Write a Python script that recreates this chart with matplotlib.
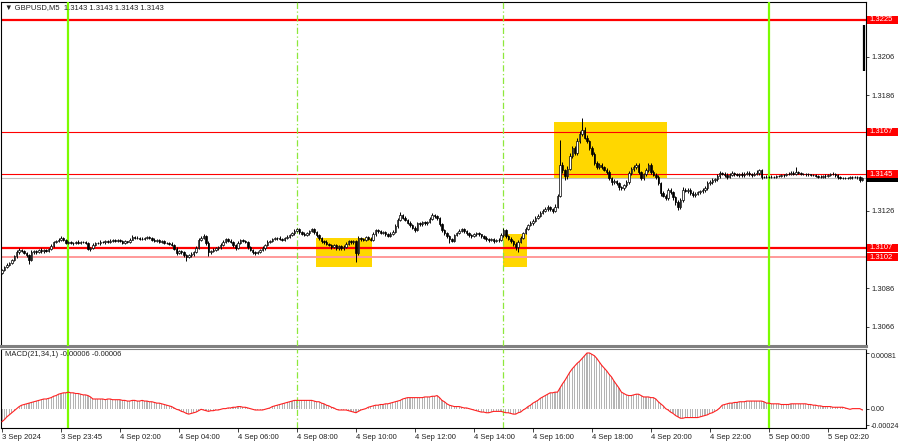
import matplotlib
matplotlib.use('Agg')
import matplotlib.pyplot as plt
import matplotlib.transforms as mtransforms
from matplotlib.patches import Rectangle
import numpy as np

plt.rcParams['font.family'] = ['Liberation Sans', 'DejaVu Sans']

# GBPUSD M5 closes, pips above 1.3000 (one row = 24 bars = 2 hours)
closes = [
    95.5, 97.0, 98.0, 99.2, 100.6, 102.5, 104.7, 106.0, 105.2, 104.0, 103.0, 100.8, 104.5, 105.3, 104.6, 106.0, 105.0, 105.6, 105.2, 106.2, 107.8, 110.0, 110.6, 111.2,
    112.0, 111.0, 109.5, 109.8, 109.3, 109.6, 110.0, 109.5, 109.9, 109.7, 109.4, 106.2, 107.0, 108.4, 109.5, 109.2, 110.0, 109.8, 110.3, 110.1, 110.6, 110.9, 110.4, 111.0,
    110.5, 109.5, 110.2, 110.0, 111.2, 112.5, 112.0, 112.2, 111.6, 111.5, 111.9, 112.3, 112.0, 111.2, 110.5, 110.8, 110.0, 110.3, 109.6, 109.5, 109.0, 108.4, 106.5, 104.2,
    105.0, 104.5, 103.2, 102.2, 103.0, 103.8, 104.7, 107.0, 111.0, 112.2, 113.0, 109.5, 104.5, 105.2, 106.0, 106.6, 107.2, 108.5, 110.0, 111.3, 110.6, 110.0, 108.2, 106.8,
    109.5, 111.0, 110.5, 110.0, 107.2, 105.8, 104.7, 104.3, 104.8, 105.9, 106.8, 108.5, 110.0, 110.6, 111.4, 111.8, 112.1, 111.5, 111.1, 111.9, 112.6, 113.4, 114.5, 115.6,
    116.4, 115.0, 114.2, 113.5, 114.5, 115.6, 116.5, 115.2, 113.5, 111.8, 110.5, 110.0, 109.0, 108.5, 107.4, 108.2, 106.8, 107.6, 106.6, 107.5, 109.0, 110.5, 109.8, 110.2,
    104.0, 112.0, 111.5, 111.0, 112.4, 111.6, 111.2, 114.0, 116.0, 115.4, 114.6, 115.0, 114.0, 113.0, 114.2, 115.2, 118.0, 121.5, 124.0, 122.6, 121.3, 120.0, 118.7, 117.4,
    116.2, 119.5, 119.0, 120.2, 119.6, 120.3, 122.0, 124.0, 123.2, 122.3, 119.0, 116.2, 114.5, 113.0, 111.6, 110.6, 113.5, 114.6, 115.8, 116.6, 115.5, 114.5, 113.6, 113.0,
    113.8, 114.5, 113.8, 113.0, 112.2, 111.6, 111.0, 111.4, 110.5, 110.9, 111.2, 113.5, 116.2, 113.0, 111.6, 110.5, 109.0, 107.5, 110.0, 112.0, 114.5, 116.8, 118.7, 119.8,
    121.0, 122.5, 123.6, 125.0, 126.2, 127.0, 128.0, 126.8, 126.0, 128.2, 134.0, 150.0, 147.0, 144.0, 148.0, 154.5, 158.5, 156.0, 162.5, 166.0, 168.0, 164.0, 162.0, 158.6,
    155.5, 151.0, 148.8, 149.8, 148.6, 147.4, 146.2, 143.1, 141.0, 141.6, 140.4, 138.4, 137.9, 139.2, 141.0, 145.7, 147.8, 148.8, 149.8, 146.2, 143.1, 145.0, 147.2, 149.8,
    146.2, 144.8, 143.6, 140.5, 135.3, 134.0, 132.7, 136.9, 135.8, 133.0, 130.6, 128.0, 131.7, 137.0, 136.4, 137.0, 135.3, 134.3, 135.0, 135.8, 136.2, 136.9, 138.0, 140.5,
    141.0, 142.2, 142.6, 144.0, 145.7, 145.4, 144.6, 143.6, 144.8, 145.7, 145.0, 144.6, 145.2, 144.6, 145.3, 145.7, 145.0, 144.6, 145.2, 145.7, 147.0, 143.6, 143.8, 143.6,
    143.6, 143.8, 143.6, 144.0, 144.1, 144.4, 144.6, 145.0, 145.4, 145.7, 145.4, 146.2, 145.6, 145.2, 145.0, 145.2, 144.9, 144.6, 144.6, 144.2, 143.8, 143.6, 143.9, 144.1,
    144.5, 144.9, 145.2, 144.6, 143.6, 143.1, 143.0, 143.1, 143.3, 143.4, 143.6, 143.5, 143.6, 142.0, 143.1,
]
first_open = 94.0

# upper / lower shadows in tenths of a pip
wick_hi = [
    6, 5, 8, 4, 7, 5, 9, 6, 4, 8, 5, 6, 10, 5, 7, 4, 6, 8, 5, 7, 9, 6, 5, 8,
    9, 5, 6, 4, 7, 5, 6, 8, 4, 6, 5, 7, 4, 8, 6, 5, 7, 4, 6, 5, 8, 6, 4, 7,
    5, 6, 8, 4, 7, 9, 5, 6, 4, 7, 5, 8, 6, 4, 7, 5, 6, 4, 8, 5, 6, 7, 5, 6,
    7, 5, 6, 4, 6, 8, 5, 9, 12, 8, 10, 6, 7, 5, 6, 8, 5, 7, 9, 6, 5, 7, 6, 5,
    8, 6, 5, 7, 4, 6, 5, 7, 6, 5, 8, 6, 7, 5, 6, 8, 5, 7, 6, 5, 8, 9, 7, 8,
    10, 6, 5, 8, 6, 7, 9, 6, 5, 7, 6, 5, 8, 6, 5, 7, 6, 8, 5, 6, 9, 7, 6, 8,
    6, 10, 7, 6, 8, 5, 7, 9, 8, 6, 7, 5, 6, 8, 7, 9, 10, 8, 12, 6, 7, 5, 6, 5,
    7, 9, 6, 8, 5, 7, 9, 10, 6, 5, 7, 6, 5, 7, 6, 5, 8, 7, 9, 8, 6, 7, 5, 6,
    7, 8, 6, 5, 7, 6, 5, 8, 6, 7, 9, 10, 12, 6, 5, 7, 6, 8, 9, 10, 8, 9, 7, 8,
    9, 8, 7, 10, 8, 9, 10, 7, 8, 12, 10, 128, 15, 10, 12, 14, 12, 10, 15, 12, 60, 15, 12, 10,
    12, 10, 9, 8, 10, 7, 9, 8, 7, 9, 6, 8, 7, 9, 10, 12, 10, 9, 11, 8, 7, 9, 10, 12,
    8, 9, 7, 8, 7, 9, 8, 10, 8, 7, 6, 9, 10, 12, 9, 8, 7, 9, 8, 7, 9, 8, 10, 9,
    8, 9, 7, 10, 9, 7, 8, 9, 10, 8, 7, 9, 6, 8, 7, 9, 8, 7, 9, 14, 8, 6, 5, 6,
    5, 6, 5, 7, 6, 8, 6, 7, 9, 10, 8, 26, 7, 6, 5, 7, 6, 5, 7, 6, 5, 6, 7, 8,
    6, 7, 8, 5, 6, 5, 4, 6, 5, 7, 5, 6, 5, 4, 3,
]
wick_lo = [
    8, 6, 5, 7, 6, 5, 7, 8, 6, 5, 8, 25, 7, 6, 8, 5, 7, 6, 5, 6, 7, 5, 8, 6,
    6, 8, 7, 5, 6, 7, 5, 6, 8, 5, 7, 6, 9, 7, 6, 5, 8, 6, 7, 5, 6, 8, 7, 5,
    7, 6, 5, 8, 6, 5, 7, 6, 8, 5, 7, 6, 5, 8, 6, 7, 5, 6, 7, 8, 6, 7, 9, 8,
    7, 8, 10, 22, 8, 7, 9, 6, 7, 8, 6, 9, 17, 8, 7, 6, 8, 7, 6, 5, 7, 8, 9, 10,
    7, 6, 8, 7, 9, 8, 10, 9, 8, 7, 6, 8, 7, 6, 5, 7, 6, 8, 7, 6, 5, 7, 6, 8,
    6, 8, 9, 7, 6, 8, 6, 9, 8, 7, 9, 10, 8, 9, 10, 8, 12, 9, 10, 8, 7, 6, 8, 9,
    45, 8, 9, 7, 6, 8, 7, 6, 8, 9, 7, 8, 10, 7, 6, 8, 7, 6, 8, 9, 7, 8, 9, 8,
    9, 8, 7, 9, 8, 7, 6, 8, 7, 9, 8, 10, 9, 12, 20, 8, 7, 6, 8, 9, 7, 8, 9, 8,
    7, 8, 7, 9, 8, 10, 9, 8, 9, 7, 8, 7, 9, 10, 8, 9, 12, 15, 28, 8, 7, 6, 8, 7,
    9, 8, 7, 9, 8, 7, 10, 9, 12, 8, 9, 10, 15, 20, 12, 10, 9, 12, 10, 11, 12, 9, 10, 12,
    10, 12, 9, 10, 11, 9, 10, 12, 14, 10, 11, 13, 12, 9, 10, 8, 9, 10, 12, 9, 11, 10, 9, 8,
    10, 9, 11, 12, 13, 10, 11, 12, 10, 13, 15, 15, 10, 9, 8, 10, 9, 12, 10, 8, 9, 8, 10, 9,
    9, 8, 10, 9, 8, 10, 9, 8, 7, 9, 8, 7, 8, 9, 8, 7, 8, 9, 7, 6, 9, 8, 6, 5,
    6, 5, 7, 5, 6, 5, 7, 6, 5, 6, 7, 8, 6, 5, 6, 7, 6, 5, 6, 7, 8, 6, 5, 6,
    7, 6, 5, 8, 9, 7, 6, 5, 6, 5, 6, 5, 7, 12, 6,
]

# MACD(21,34,1) main value per bar, in 1e-5
macd = [
    -19, -16, -12, -9, -6, -3, 0, 3, 5, 6, 7, 8, 9, 10, 11, 12, 13, 14, 14, 15, 16, 18, 19, 21,
    22, 23, 23, 24, 23, 23, 22, 22, 21, 20, 20, 19, 17, 14, 14, 14, 14, 14, 13, 14, 14, 13, 13, 13,
    13, 12, 12, 11, 11, 12, 12, 11, 11, 12, 11, 11, 10, 10, 9, 8, 8, 7, 6, 5, 4, 3, 1, -1,
    -2, -4, -5, -7, -8, -7, -6, -5, -3, -1, -2, -3, -4, -3, -3, -2, -2, -1, 0, 0, 1, 1, 2, 2,
    3, 3, 2, 2, 1, 0, -1, -2, -2, -2, -2, -1, 0, 1, 3, 4, 5, 6, 7, 8, 9, 10, 11, 12,
    12, 12, 12, 12, 12, 12, 12, 11, 10, 10, 8, 7, 5, 4, 2, 1, -1, -2, -2, -2, -2, -3, -4, -5,
    -6, -4, -2, -1, 0, 2, 3, 4, 5, 5, 6, 6, 7, 7, 8, 9, 10, 11, 12, 14, 15, 16, 16, 16,
    16, 16, 16, 16, 17, 17, 17, 18, 18, 19, 16, 12, 10, 7, 5, 4, 3, 3, 3, 2, 1, 1, 0, -1,
    -2, -3, -4, -5, -5, -6, -6, -5, -4, -4, -4, -4, -5, -6, -6, -7, -8, -8, -6, -5, -2, 0, 3, 5,
    8, 10, 12, 15, 17, 19, 21, 23, 23, 24, 24, 30, 36, 41, 47, 53, 58, 62, 66, 69, 73, 77, 81, 81,
    79, 77, 73, 68, 63, 59, 55, 50, 46, 40, 35, 30, 24, 22, 20, 19, 19, 20, 21, 21, 19, 17, 17, 17,
    16, 16, 14, 10, 7, 4, 0, -2, -5, -7, -10, -12, -14, -14, -13, -13, -13, -13, -13, -13, -12, -11, -10, -9,
    -7, -6, -4, -2, 1, 5, 6, 7, 8, 8, 9, 9, 10, 10, 10, 11, 11, 11, 11, 11, 11, 11, 10, 8,
    8, 7, 7, 7, 7, 6, 6, 6, 6, 7, 7, 7, 7, 7, 7, 7, 6, 6, 5, 5, 4, 4, 3, 3,
    3, 3, 2, 2, 2, 2, 2, 1, 0, -1, 0, 0, 0, 0, -2,
]

time_labels = ['3 Sep 2024', '3 Sep 23:45', '4 Sep 02:00', '4 Sep 04:00', '4 Sep 06:00',
               '4 Sep 08:00', '4 Sep 10:00', '4 Sep 12:00', '4 Sep 14:00', '4 Sep 16:00',
               '4 Sep 18:00', '4 Sep 20:00', '4 Sep 22:00', '5 Sep 00:00', '5 Sep 02:20']
label_bars = [0, 24, 48, 72, 96, 120, 144, 168, 192, 216, 240, 264, 288, 312, 336]

day_lines = [27, 312]           # 4 Sep 00:00, 5 Sep 00:00
session_lines = [120, 204]      # 4 Sep 08:00, 4 Sep 15:00

# support / resistance levels
levels = [1.3225, 1.3167, 1.3145, 1.3107, 1.3102]
level_widths = [1.6, 0.8, 0.8, 1.6, 1.4]
level_colors = ['#ff0000', '#ff0000', '#ff0000', '#ff0000', '#ff9a9a']
bid = 1.3143

# signal zones: start bar, end bar, low, high
zones = [(127.7, 150.5, 1.3097, 1.3112),
         (203.8, 213.6, 1.3097, 1.3114),
         (224.6, 270.5, 1.31426, 1.31721)]

price_ticks = [1.3066, 1.3086, 1.3126, 1.3186, 1.3206]
spike = (1.31986, 1.32224)   # odd last tick at the right edge

assert len(closes) == len(wick_hi) == len(wick_lo) == len(macd), \
    (len(closes), len(wick_hi), len(wick_lo), len(macd))

c = 1.3 + np.array(closes) / 1e4
o = np.r_[1.3 + first_open / 1e4, c[:-1]]
hi = np.maximum(o, c) + np.array(wick_hi) / 1e5
lo = np.minimum(o, c) - np.array(wick_lo) / 1e5
m = np.array(macd) / 1e5
idx = np.arange(len(c))

W, H = 900, 441
fig = plt.figure(figsize=(9, 4.41), dpi=100)


def px_axes(x0, y0, x1, y1):
    return fig.add_axes([x0 / W, 1 - y1 / H, (x1 - x0) / W, (y1 - y0) / H])


ax = px_axes(1, 2, 866, 346)
axm = px_axes(1, 349, 866, 428)

xlim = (-0.4, 351.5)
ax.set_xlim(*xlim)
ax.set_ylim(1.30560, 1.32343)
axm.set_xlim(*xlim)
axm.set_ylim(-0.000282, 0.000868)

# zones
for x0, x1, y0, y1 in zones:
    ax.add_patch(Rectangle((x0, y0), x1 - x0, y1 - y0, color='#ffd700', lw=0, zorder=1))

# levels
ax.axhline(bid, color='#c0c0c0', lw=0.8, zorder=2)
for lv, lw, col in zip(levels, level_widths, level_colors):
    ax.axhline(lv, color=col, lw=lw, zorder=2)

# vertical lines through both panels
for a in (ax, axm):
    for d in day_lines:
        a.axvline(d, color='#7cfc00', lw=1.6, zorder=3)
    for s in session_lines:
        a.axvline(s, color='#8ee83c', lw=0.9, ls=(0, (5, 2, 1, 2)), zorder=3)

# candles
up = c >= o
ax.vlines(idx, lo, hi, color='black', lw=0.7, zorder=4)
ax.bar(idx[up], np.maximum(c - o, 2e-6)[up], bottom=o[up], width=0.6,
       color='white', edgecolor='black', lw=0.5, zorder=5)
ax.bar(idx[~up], (o - c)[~up], bottom=c[~up], width=0.6,
       color='black', edgecolor='black', lw=0.5, zorder=5)
ax.vlines(idx[-1] + 0.6, spike[0], spike[1], color='black', lw=1.6, zorder=5)

# MACD panel
axm.bar(idx, m, width=0.45, color='#b4b4b4', lw=0, zorder=2)
axm.plot(idx, m, color='#ff2020', lw=0.8, zorder=4)

# axes styling
for a in (ax, axm):
    for sp in a.spines.values():
        sp.set_color('#000000')
        sp.set_linewidth(0.8)
    a.yaxis.tick_right()
    a.tick_params(axis='y', labelsize=5.5, length=2.5, width=0.6, pad=1.5, colors='#222222')
ax.spines['bottom'].set_color('#808080')
ax.spines['bottom'].set_linewidth(2.2)
axm.spines['top'].set_color('#808080')

ax.set_xticks([])
ax.set_yticks(price_ticks)
ax.set_yticklabels(['%.4f' % t for t in price_ticks])

axm.set_yticks([0.00081, 0.0, -0.00024])
axm.set_yticklabels(['0.00081', '0.00', '-0.00024'])
axm.tick_params(axis='y', labelsize=5.1, pad=1)
axm.get_yticklabels()[0].set_va('top')
axm.set_xticks(label_bars)
axm.set_xticklabels(time_labels)
axm.tick_params(axis='x', labelsize=5.5, length=3, width=0.6, pad=1.5, colors='#222222')
for lbl in axm.get_xticklabels():
    lbl.set_ha('left')

# price tags on the right
tr = mtransforms.blended_transform_factory(fig.transFigure, ax.transData)
tag_h = 0.00042


def price_tag(y, fc, show_text=True):
    ax.add_patch(Rectangle((867 / W, y - tag_h / 2), 31 / W, tag_h, transform=tr,
                           facecolor=fc, edgecolor='none', clip_on=False, zorder=10))
    if show_text:
        ax.text(869.5 / W, y, '%.4f' % y, transform=tr, ha='left', va='center',
                fontsize=5.5, color='white', clip_on=False, zorder=11)


# bid tag sits almost fully behind the 1.3145 tag, only its lower edge shows
price_tag(bid, '#000000', show_text=False)
for lv in levels:
    price_tag(lv, '#ff0000')

fig.text(5 / W, 1 - 8 / H, '\u25bc GBPUSD,M5  1.3143 1.3143 1.3143 1.3143',
         fontsize=5.5, va='center', ha='left', color='#222222')
fig.text(5 / W, 1 - 355 / H, 'MACD(21,34,1) -0.00006 -0.00006',
         fontsize=5.5, va='center', ha='left', color='#222222')

fig.savefig('out.png', dpi=100, facecolor='white')
